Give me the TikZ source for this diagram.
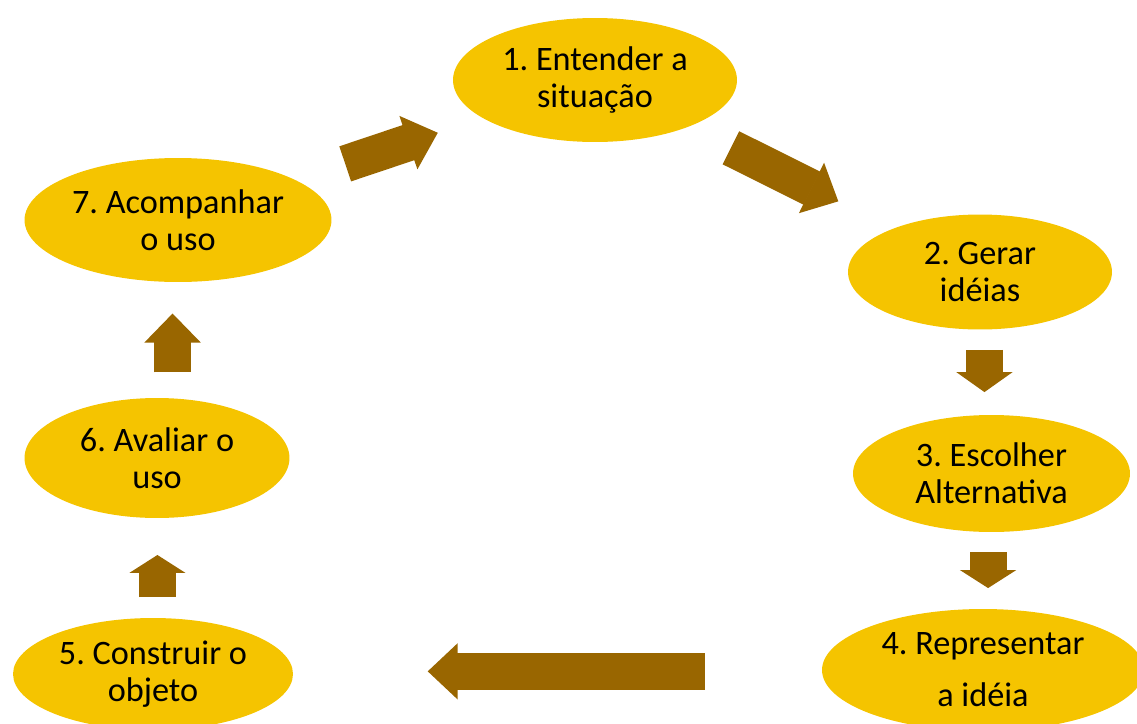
\documentclass[tikz,border=0pt]{standalone}
\usepackage{fontspec}
\setmainfont{Carlito}
\usepackage{tikz}
\usetikzlibrary{arrows.meta,shapes.geometric,calc}
\definecolor{stepgold}{HTML}{F5C400}
\definecolor{arrowbrown}{HTML}{996600}
\frenchspacing

\begin{document}
\begin{tikzpicture}[x=0.02cm,y=-0.02cm,
  stage/.style={ellipse,fill=stepgold,inner sep=0pt,align=center,
    font=\fontsize{19.5}{21}\selectfont},
  flow/.style={draw=arrowbrown,line width=0.74cm,
    -{Triangle[width=1.12cm,length=#1,line width=1.2pt]}},
  flow/.default=0.6cm]
  \useasboundingbox (0,0) rectangle (1137,724);
  % stages of the cycle
  \node[stage,minimum width=5.68cm,minimum height=2.48cm] (s1) at (595,80) {1. Entender a\\situação};
  \node[stage,minimum width=5.28cm,minimum height=2.3cm]  (s2) at (980,272) {2. Gerar\\idéias};
  \node[stage,minimum width=5.54cm,minimum height=2.34cm] (s3) at (991.5,473.5) {3. Escolher\\Alternativa};
  \node[stage,minimum width=6.44cm,minimum height=2.44cm] (s4) at (983,670) {4. Representar\\[8.6pt]a idéia};
  \node[stage,minimum width=5.6cm,minimum height=2.24cm]  (s5) at (153,674) {5. Construir o\\objeto};
  \node[stage,minimum width=5.3cm,minimum height=2.4cm]   (s6) at (157,458) {6. Avaliar o\\uso};
  \node[stage,minimum width=6.14cm,minimum height=2.48cm] (s7) at (178,220) {7. Acompanhar\\o uso};
  % ends of the straight arrows
  \coordinate (a3) at ($(s2)!0.387!(s3)$);
  \coordinate (b3) at ($(s2)!0.596!(s3)$);
  \coordinate (a4) at ($(s3)!0.40!(s4)$);
  \coordinate (b4) at ($(s3)!0.583!(s4)$);
  \coordinate (a5) at ($(s4)!0.335!(s5)$);
  \coordinate (b5) at ($(s4)!0.669!(s5)$);
  \coordinate (a6) at ($(s5)!0.356!(s6)+(3,0)$);
  \coordinate (b6) at ($(s5)!0.551!(s6)$);
  \coordinate (a7) at ($(s6)!0.36!(s7)+(8,0)$);
  \coordinate (b7) at ($(s6)!0.607!(s7)$);
  % block arrows
  \draw[flow=0.62cm] ($(s7)!0.401!(s1)$) -- ($(s7)!0.623!(s1)$);
  \draw[flow=0.6cm]  ($(s1)!0.353!(s2)$) -- ($(s1)!0.632!(s2)$);
  \draw[flow=0.4cm]  (a3) -- (a3 |- b3);
  \draw[flow=0.36cm] (a4) -- (a4 |- b4);
  \draw[flow=0.6cm]  (a5) -- (a5 -| b5);
  \draw[flow=0.36cm] (a6) -- (a6 |- b6);
  \draw[flow=0.58cm] (a7) -- (a7 |- b7);
\end{tikzpicture}
\end{document}
